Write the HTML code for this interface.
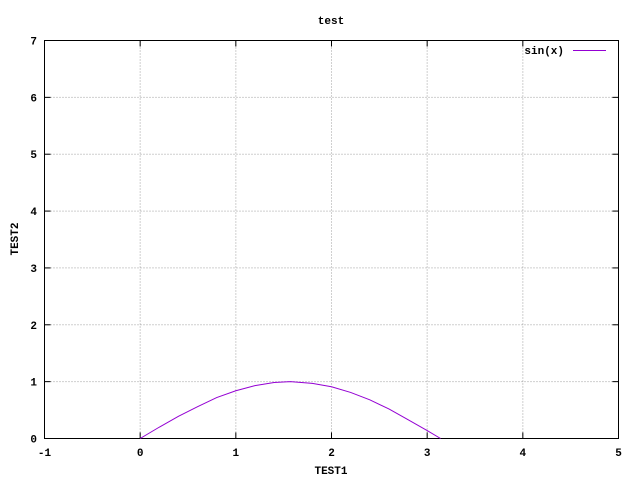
<!DOCTYPE html>
<html><head><meta charset="utf-8"><style>
body{margin:0;background:#fff}
svg text{font-family:"Liberation Mono","DejaVu Sans Mono",monospace;font-size:11px;font-weight:bold;fill:#000}
</style></head><body>
<svg id="chart" width="640" height="480" xmlns="http://www.w3.org/2000/svg">
<rect x="0" y="0" width="640" height="480" fill="#fff"/>
<g id="grid"></g>
<g id="ticks"></g>
<rect x="44.5" y="40.5" width="574" height="398" fill="none" stroke="#000" stroke-width="1"/>
<polyline id="series" fill="none" stroke="#9400d3" stroke-width="1"/>
<text x="331" y="24" text-anchor="middle">test</text>
<text x="331" y="474" text-anchor="middle">TEST1</text>
<text x="18" y="239" text-anchor="middle" transform="rotate(-90 18 239)">TEST2</text>
<g>
<text x="564" y="54" text-anchor="end">sin(x)</text>
<line x1="573" y1="50.5" x2="606" y2="50.5" stroke="#9400d3" stroke-width="1"/>
</g>
</svg>
<script>
const xTicks=[-1,0,1,2,3,4,5];
const yTicks=[0,1,2,3,4,5,6,7];
const xs=[0,0.2,0.4,0.6,0.8,1.0,1.2,1.4,1.57,1.8,2.0,2.2,2.4,2.6,2.8,3.0,3.14];
const ys=[0,0.2,0.39,0.56,0.72,0.84,0.93,0.985,1.0,0.97,0.91,0.81,0.68,0.52,0.33,0.14,0];
const X0=44.5,X1=618.5,Y0=438.5,Y1=40.5;
const sx=v=>X0+(v-(-1))/6*(X1-X0);
const sy=v=>Y0-(v/7)*(Y0-Y1);
const NS="http://www.w3.org/2000/svg";
const grid=document.getElementById('grid'),ticks=document.getElementById('ticks');
function mk(t,a,p){const e=document.createElementNS(NS,t);for(const k in a)e.setAttribute(k,a[k]);p.appendChild(e);return e;}
xTicks.forEach(v=>{
 const x=sx(v);
 if(v>-1&&v<5){const g=mk('line',{x1:x,y1:Y0,x2:x,y2:Y1,stroke:'#a0a0a0','stroke-dasharray':'1,2'},grid);
 
 }
 const t1=mk('line',{x1:x,y1:Y0,x2:x,y2:Y0-6,stroke:'#000'},ticks);
 
 
 const t2=mk('line',{x1:x,y1:Y1,x2:x,y2:Y1+6,stroke:'#000'},ticks);
 
 
 const l=mk('text',{x:x,y:456,'text-anchor':'middle'},ticks);l.textContent=String(v).replace('-','\u2212').replace('\u2212','-');
 
 
});
yTicks.forEach(v=>{
 const y=sy(v);
 if(v>0&&v<7){const g=mk('line',{x1:X0,y1:y,x2:X1,y2:y,stroke:'#a0a0a0','stroke-dasharray':'1,2'},grid);
 
 }
 const t1=mk('line',{x1:X0,y1:y,x2:X0+6,y2:y,stroke:'#000'},ticks);
 
 
 const t2=mk('line',{x1:X1,y1:y,x2:X1-6,y2:y,stroke:'#000'},ticks);
 
 
 const l=mk('text',{x:37,y:y+4,'text-anchor':'end'},ticks);l.textContent=String(v);
 
 
});
document.getElementById('series').setAttribute('points',xs.map((v,i)=>sx(v)+','+sy(ys[i])).join(' '));
</script>
</body></html>
